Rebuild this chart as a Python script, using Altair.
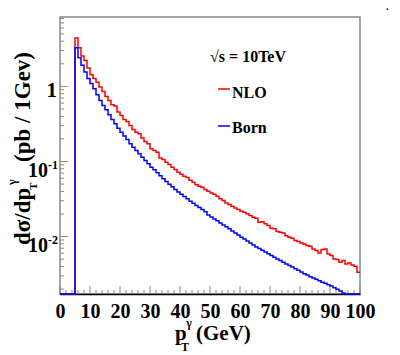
import altair as alt
import pandas as pd

# ---------------- data ----------------
bin_low = list(range(0, 100))          # 1 GeV bins, lower edges
nlo = [
    0, 0, 0, 0, 0, 4.41, 3.28, 2.54, 2.22, 1.76,
    1.43, 1.27, 1.14, 0.980, 0.858, 0.736, 0.651, 0.569, 0.547, 0.455,
    0.411, 0.363, 0.341, 0.302, 0.267, 0.246, 0.234, 0.205, 0.185, 0.172,
    0.148, 0.140, 0.133, 0.111, 0.106, 0.0980, 0.0912, 0.0840, 0.0782, 0.0721,
    0.0678, 0.0637, 0.0612, 0.0564, 0.0530, 0.0489, 0.0469, 0.0455, 0.0423, 0.0402,
    0.0382, 0.0367, 0.0345, 0.0318, 0.0302, 0.0281, 0.0267, 0.0254, 0.0241, 0.0229,
    0.0218, 0.0211, 0.0201, 0.0191, 0.0181, 0.0176, 0.0155, 0.0158, 0.0148, 0.0140,
    0.0129, 0.0127, 0.0117, 0.0114, 0.0112, 0.0103, 0.00980, 0.00950, 0.00884, 0.00858,
    0.00823, 0.00799, 0.00759, 0.00743, 0.00685, 0.00651, 0.00606, 0.00671, 0.00685, 0.00587,
    0.00558, 0.00504, 0.00494, 0.00455, 0.00479, 0.00432, 0.00446, 0.00419, 0.00402, 0.00334,
]
born = [
    0, 0, 0, 0, 0, 3.28, 2.41, 1.91, 1.55, 1.27,
    1.09, 0.931, 0.774, 0.651, 0.558, 0.489, 0.419, 0.363, 0.318, 0.278,
    0.246, 0.218, 0.197, 0.172, 0.155, 0.140, 0.127, 0.114, 0.103, 0.0931,
    0.0840, 0.0774, 0.0706, 0.0644, 0.0587, 0.0541, 0.0499, 0.0460, 0.0423, 0.0394,
    0.0367, 0.0341, 0.0318, 0.0296, 0.0278, 0.0259, 0.0244, 0.0229, 0.0215, 0.0194,
    0.0183, 0.0172, 0.0162, 0.0152, 0.0143, 0.0135, 0.0127, 0.0119, 0.0112, 0.0105,
    0.00980, 0.00931, 0.00876, 0.00823, 0.00774, 0.00728, 0.00692, 0.00657, 0.00625, 0.00593,
    0.00558, 0.00530, 0.00504, 0.00479, 0.00455, 0.00432, 0.00411, 0.00394, 0.00374, 0.00356,
    0.00338, 0.00321, 0.00308, 0.00293, 0.00281, 0.00270, 0.00259, 0.00246, 0.00239, 0.00229,
    0.00220, 0.00209, 0.00199, 0.00189, 0.00177, 0, 0, 0, 0, 0,
]
x_major = [0, 10, 20, 30, 40, 50, 60, 70, 80, 90, 100]
x_minor = [v for v in range(0, 101, 2) if v % 10 != 0]
y_major = [1, 0.1, 0.01]
y_major_text = ["1", "10", "10"]
y_major_exp = ["", "-1", "-2"]
y_minor = ([k * 0.001 for k in range(2, 10)] + [k * 0.01 for k in range(2, 10)]
           + [k * 0.1 for k in range(2, 10)] + [2, 3, 4, 5, 6, 7, 8])
Y_MIN, Y_MAX = 0.00172, 8.4
X_MAX = 100

# ---------------- tables ----------------
def hist_table(vals):
    xs = bin_low + [X_MAX]
    vs = [max(v, Y_MIN) for v in vals] + [max(vals[-1], Y_MIN)]
    return pd.DataFrame({"x": xs, "v": vs})

FONT = "Liberation Serif, Times New Roman, serif"
W, H = 300, 277

xscale = alt.Scale(domain=[0, X_MAX], nice=False, zero=False)
yscale = alt.Scale(type="log", domain=[Y_MIN, Y_MAX], nice=False)
xaxis = alt.Axis(values=x_major, format="d", title=None, grid=False, ticks=False,
                 labelFont=FONT, labelFontWeight="bold", labelFontSize=20,
                 labelColor="black", labelFlush=False, labelOverlap=False,
                 labelPadding=7, domainColor="black", domainWidth=1.5)

def X(field):
    return alt.X(field, type="quantitative", scale=xscale, axis=xaxis)

def Y(field):
    return alt.Y(field, type="quantitative", scale=yscale, axis=None)

def text(t, x, y, size, angle=0, align="left", baseline="alphabetic", color="black"):
    return alt.Chart(pd.DataFrame({"t": [t]})).mark_text(
        x=x, y=y, fontSize=size, angle=angle, align=align, baseline=baseline,
        font=FONT, fontWeight="bold", color=color
    ).encode(text="t:N")

def hline(x1, x2, y, color):
    return alt.Chart(pd.DataFrame({"a": [0]})).mark_rule(
        color=color, strokeWidth=1.5
    ).encode(x=alt.value(x1), x2=alt.value(x2), y=alt.value(y))

TICK = "#888888"
x_ticks_major = alt.Chart(pd.DataFrame({"v": x_major})).mark_rule(color=TICK, strokeWidth=1).encode(
    x=X("v"), y=alt.value(H), y2=alt.value(H - 8))
x_ticks_minor = alt.Chart(pd.DataFrame({"v": x_minor})).mark_rule(color=TICK, strokeWidth=1).encode(
    x=X("v"), y=alt.value(H), y2=alt.value(H - 4))
y_ticks_major = alt.Chart(pd.DataFrame({"v": y_major})).mark_rule(color=TICK, strokeWidth=1).encode(
    y=Y("v"), x=alt.value(0), x2=alt.value(8))
y_ticks_minor = alt.Chart(pd.DataFrame({"v": y_minor})).mark_rule(color=TICK, strokeWidth=1).encode(
    y=Y("v"), x=alt.value(0), x2=alt.value(4))

ylab = pd.DataFrame({"v": y_major, "t": y_major_text, "e": y_major_exp})
ylab_one = alt.Chart(ylab).transform_filter("datum.e == ''").mark_text(
    align="right", baseline="alphabetic", dy=11, font=FONT, fontWeight="bold",
    fontSize=21, color="black").encode(y=Y("v"), x=alt.value(-3), text="t:N")
ylab_ten = alt.Chart(ylab).transform_filter("datum.e != ''").mark_text(
    align="right", baseline="alphabetic", dy=15, font=FONT, fontWeight="bold",
    fontSize=20, color="black").encode(y=Y("v"), x=alt.value(-12), text="t:N")
ylab_exp = alt.Chart(ylab).transform_filter("datum.e != ''").mark_text(
    align="left", baseline="alphabetic", dy=7, font=FONT, fontWeight="bold",
    fontSize=12, color="black").encode(y=Y("v"), x=alt.value(-12), text="e:N")

red_line = alt.Chart(hist_table(nlo)).mark_line(
    interpolate="step-after", color="#ff0000", strokeWidth=1.5).encode(x=X("x"), y=Y("v"))
blue_line = alt.Chart(hist_table(born)).mark_line(
    interpolate="step-after", color="#0000ff", strokeWidth=1.5).encode(x=X("x"), y=Y("v"))

layers = [
    x_ticks_minor, x_ticks_major, y_ticks_minor, y_ticks_major,
    red_line, blue_line,
    ylab_one, ylab_ten, ylab_exp,
    # y title
    text("dσ/dp", -30, 228, 23, angle=270),
    text("T", -23, 173, 11, angle=270),
    text("γ", -44, 168, 12, angle=270),
    text("(pb / 1Gev)", -30, 35, 23, angle=270, align="right"),
    # x title
    text("p", 115, 323, 21),
    text("T", 125, 334, 12, align="center"),
    text("γ", 129, 310, 12, align="center"),
    text("(GeV)", 136, 323, 21),
    # legend
    text("√s = 10TeV", 150, 45, 16),
    hline(158, 170, 72, "#ff0000"),
    text("NLO", 172, 81, 16),
    hline(158, 170, 109, "#0000ff"),
    text("Born", 172, 116, 16),
    text(".", 326, -7, 10),
]

chart = alt.layer(*layers).properties(
    width=W, height=H,
    autosize=alt.AutoSizeParams(type="none"),
    padding={"left": 52, "top": 9, "right": 32, "bottom": 61},
    background="white",
).configure_view(stroke="#888888", strokeWidth=1.5)

chart.save("out.html", embed_options={"renderer": "svg", "actions": False})
